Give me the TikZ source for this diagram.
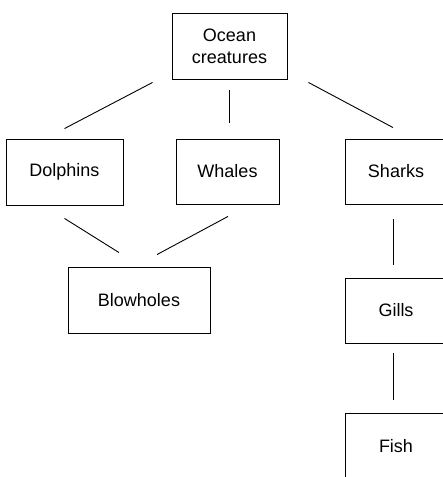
\documentclass[tikz,border=0pt]{standalone}
\usepackage{fontspec}
\setmainfont{Liberation Sans}
\usetikzlibrary{calc}
\begin{document}
\begin{tikzpicture}[x=1pt,y=-1pt,
  box/.style={draw=black,line width=0.9pt,inner sep=0pt,align=center,
    font=\fontsize{18}{22}\selectfont},
  link/.style={draw=black,line width=0.9pt}]
\path[use as bounding box,clip] (0,0) rectangle (443,477);
\fill[white] (0,0) rectangle (443,477);
\node[box,minimum width=115pt,minimum height=66pt] (oc) at (229.5,46) {Ocean\\creatures};
\node[box,minimum width=117pt,minimum height=66pt] (dol) at (64.5,172) {Dolphins};
\node[box,minimum width=103pt,minimum height=65pt] (wh) at (227.5,171.5) {Whales};
\node[box,minimum width=102pt,minimum height=65pt] (sh) at (396,171.5) {Sharks};
\node[box,minimum width=142pt,minimum height=66pt] (bl) at (139,300) {Blowholes};
\node[box,minimum width=102pt,minimum height=65pt] (gi) at (396,310.5) {Gills};
\node[box,minimum width=102pt,minimum height=66pt] (fi) at (396,446) {Fish};
\draw[link] ([shift={(-19,3)}]oc.south west) -- ([shift={(0,-10)}]dol.north);
\draw[link] ([shift={(0,11)}]oc.south) -- ([shift={(0,-16)}]oc.south |- wh.north);
\draw[link] ([shift={(21,3)}]oc.south east) -- ([shift={(-3,-11)}]sh.north);
\draw[link] ([shift={(0,13)}]dol.south) -- ([shift={(-20,-14)}]bl.north);
\draw[link] ([shift={(0.5,12)}]wh.south) -- ([shift={(18,-12)}]bl.north);
\draw[link] ([shift={(-3,15)}]sh.south) -- ([shift={(-3,-13)}]gi.north);
\draw[link] ([shift={(-3,10)}]gi.south) -- ([shift={(-3,-13)}]fi.north);
\end{tikzpicture}
\end{document}
